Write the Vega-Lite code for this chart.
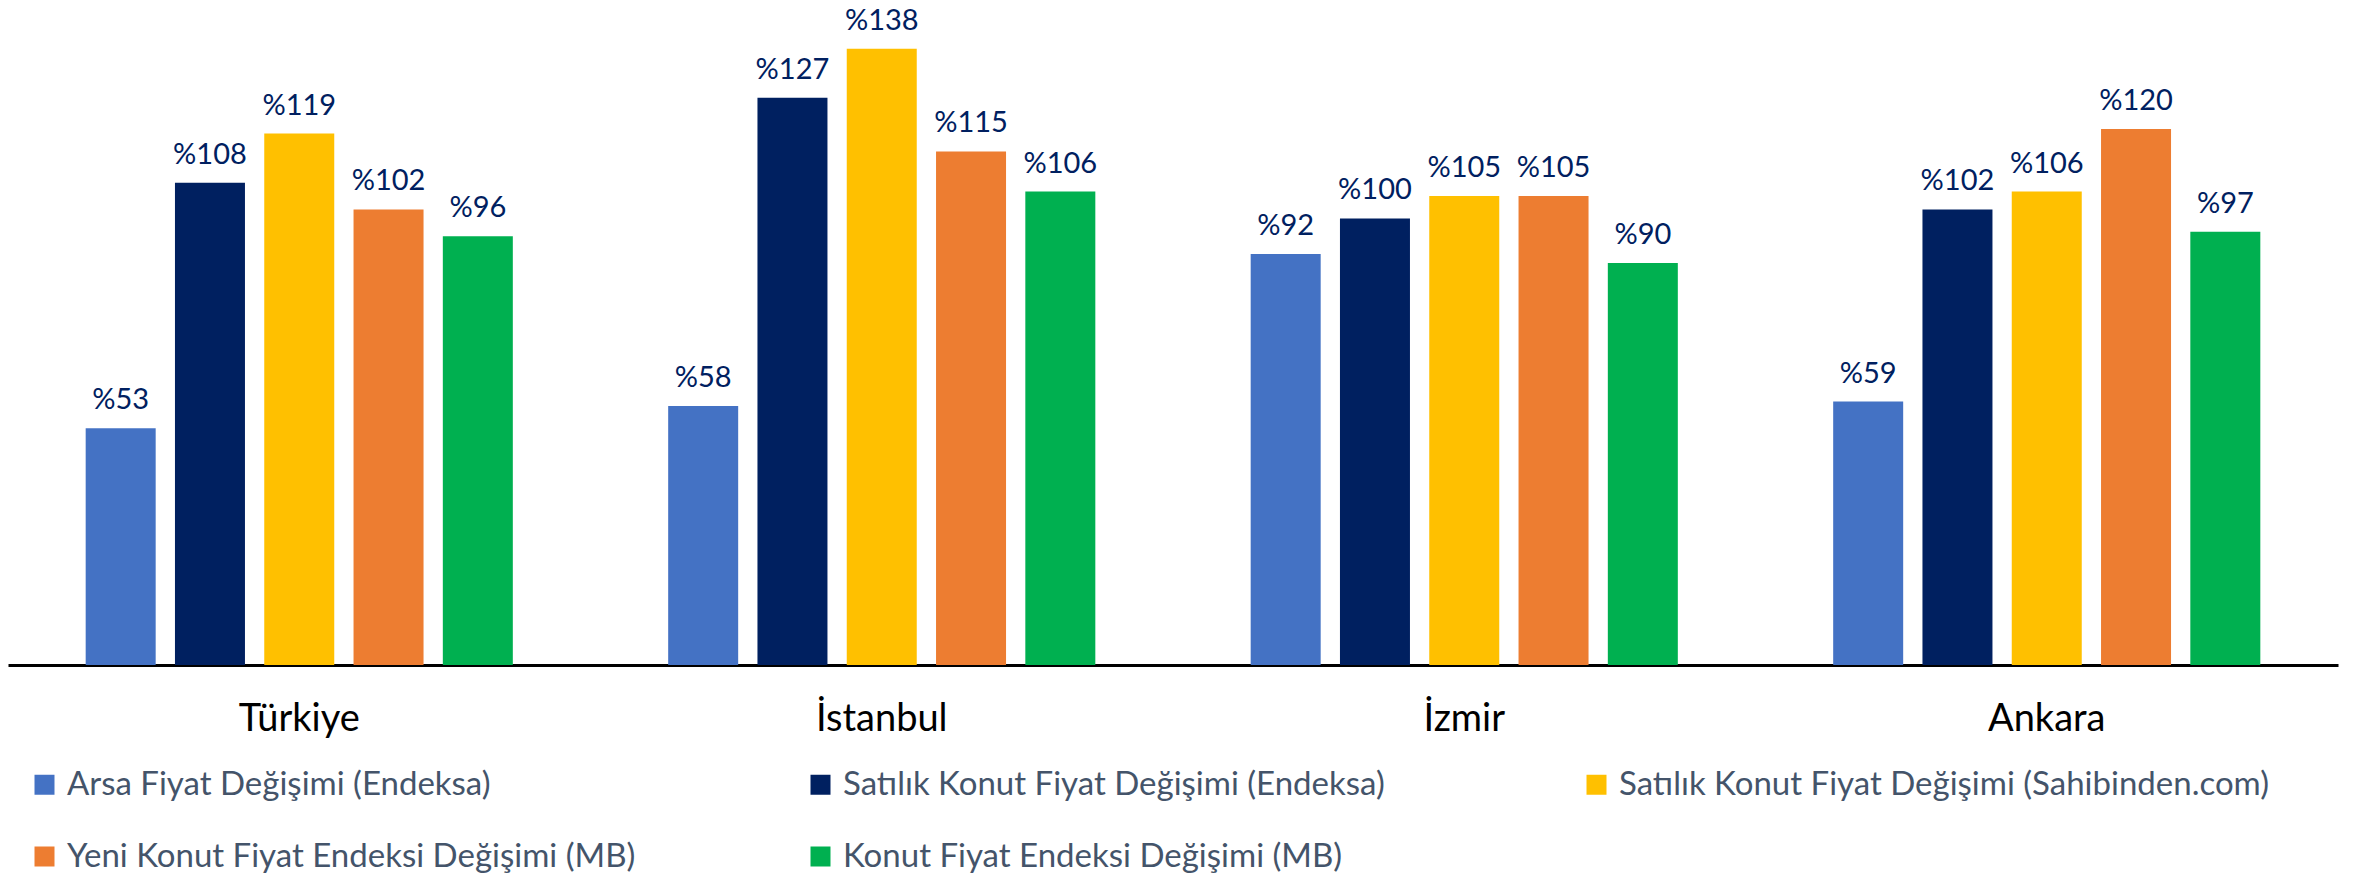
{
  "$schema": "https://vega.github.io/schema/vega-lite/v6.json",
  "width": 2330,
  "height": 665,
  "autosize": {"type": "none"},
  "padding": {"left": 8, "right": 24, "top": 0, "bottom": 211},
  "background": "white",
  "data": {
    "values": [
      {"region": "Türkiye", "series": "Arsa Fiyat Değişimi (Endeksa)", "value": 53, "label": "%53"},
      {"region": "Türkiye", "series": "Satılık Konut Fiyat Değişimi (Endeksa)", "value": 108, "label": "%108"},
      {"region": "Türkiye", "series": "Satılık Konut Fiyat Değişimi (Sahibinden.com)", "value": 119, "label": "%119"},
      {"region": "Türkiye", "series": "Yeni Konut Fiyat Endeksi Değişimi (MB)", "value": 102, "label": "%102"},
      {"region": "Türkiye", "series": "Konut Fiyat Endeksi Değişimi (MB)", "value": 96, "label": "%96"},
      {"region": "İstanbul", "series": "Arsa Fiyat Değişimi (Endeksa)", "value": 58, "label": "%58"},
      {"region": "İstanbul", "series": "Satılık Konut Fiyat Değişimi (Endeksa)", "value": 127, "label": "%127"},
      {"region": "İstanbul", "series": "Satılık Konut Fiyat Değişimi (Sahibinden.com)", "value": 138, "label": "%138"},
      {"region": "İstanbul", "series": "Yeni Konut Fiyat Endeksi Değişimi (MB)", "value": 115, "label": "%115"},
      {"region": "İstanbul", "series": "Konut Fiyat Endeksi Değişimi (MB)", "value": 106, "label": "%106"},
      {"region": "İzmir", "series": "Arsa Fiyat Değişimi (Endeksa)", "value": 92, "label": "%92"},
      {"region": "İzmir", "series": "Satılık Konut Fiyat Değişimi (Endeksa)", "value": 100, "label": "%100"},
      {"region": "İzmir", "series": "Satılık Konut Fiyat Değişimi (Sahibinden.com)", "value": 105, "label": "%105"},
      {"region": "İzmir", "series": "Yeni Konut Fiyat Endeksi Değişimi (MB)", "value": 105, "label": "%105"},
      {"region": "İzmir", "series": "Konut Fiyat Endeksi Değişimi (MB)", "value": 90, "label": "%90"},
      {"region": "Ankara", "series": "Arsa Fiyat Değişimi (Endeksa)", "value": 59, "label": "%59"},
      {"region": "Ankara", "series": "Satılık Konut Fiyat Değişimi (Endeksa)", "value": 102, "label": "%102"},
      {"region": "Ankara", "series": "Satılık Konut Fiyat Değişimi (Sahibinden.com)", "value": 106, "label": "%106"},
      {"region": "Ankara", "series": "Yeni Konut Fiyat Endeksi Değişimi (MB)", "value": 120, "label": "%120"},
      {"region": "Ankara", "series": "Konut Fiyat Endeksi Değişimi (MB)", "value": 97, "label": "%97"}
    ]
  },
  "encoding": {
    "x": {
      "field": "region", "type": "nominal",
      "sort": ["Türkiye", "İstanbul", "İzmir", "Ankara"],
      "scale": {"paddingInner": 0, "paddingOuter": 0},
      "axis": {
        "title": null, "labelAngle": 0, "ticks": false, "tickSize": 0,
        "domainColor": "#000000", "domainWidth": 3,
        "labelFont": "Lato", "labelFontSize": 38, "labelColor": "#000000",
        "labelBaseline": "alphabetic", "labelPadding": 65
      }
    },
    "xOffset": {
      "field": "series", "type": "nominal",
      "sort": ["Arsa Fiyat Değişimi (Endeksa)", "Satılık Konut Fiyat Değişimi (Endeksa)", "Satılık Konut Fiyat Değişimi (Sahibinden.com)", "Yeni Konut Fiyat Endeksi Değişimi (MB)", "Konut Fiyat Endeksi Değişimi (MB)"],
      "scale": {"paddingInner": 0.216, "paddingOuter": 0.87}
    },
    "y": {
      "field": "value", "type": "quantitative",
      "scale": {"domain": [0, 148.9], "nice": false, "zero": true},
      "axis": null
    }
  },
  "layer": [
    {
      "mark": {"type": "bar"},
      "encoding": {
        "color": {
          "field": "series", "type": "nominal",
          "scale": {
            "domain": ["Arsa Fiyat Değişimi (Endeksa)", "Satılık Konut Fiyat Değişimi (Endeksa)", "Satılık Konut Fiyat Değişimi (Sahibinden.com)", "Yeni Konut Fiyat Endeksi Değişimi (MB)", "Konut Fiyat Endeksi Değişimi (MB)"],
            "range": ["#4472C4", "#002060", "#FFC000", "#ED7D31", "#00B050"]
          },
          "legend": {
            "title": null,
            "orient": "none",
            "legendX": 20,
            "legendY": 768,
            "direction": "horizontal",
            "columns": 3,
            "gridAlign": "all",
            "columnPadding": 87,
            "rowPadding": 38,
            "symbolType": "square",
            "symbolSize": 400,
            "symbolStrokeWidth": 0,
            "labelFont": "Lato",
            "labelFontSize": 33,
            "labelColor": "#44546A",
            "labelOffset": 6,
            "labelLimit": 1200
          }
        }
      }
    },
    {
      "mark": {"type": "text", "baseline": "alphabetic", "dy": -19, "font": "Lato", "fontSize": 29, "color": "#002060"},
      "encoding": {
        "text": {"field": "label", "type": "nominal"}
      }
    }
  ],
  "config": {
    "view": {"stroke": null},
    "axis": {"grid": false}
  }
}
